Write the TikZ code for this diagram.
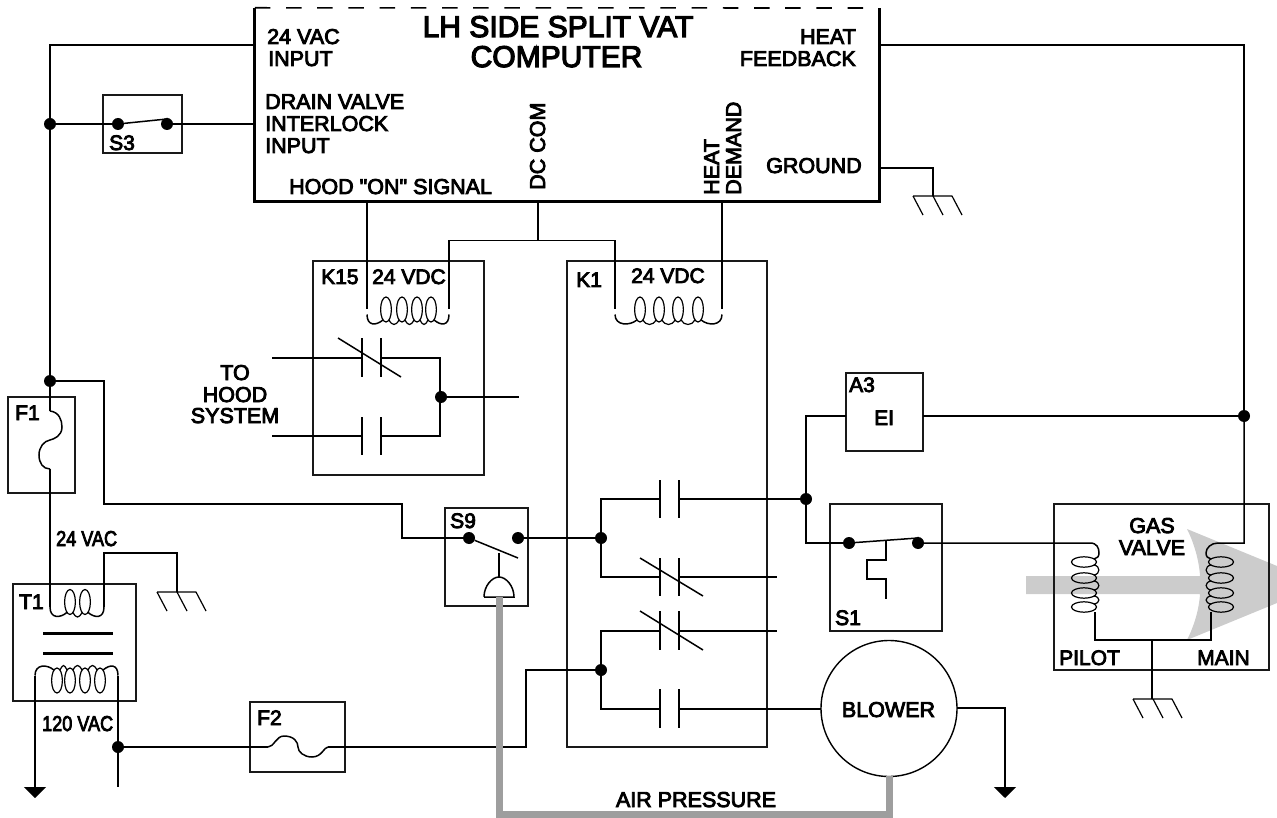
\documentclass[tikz,border=0pt]{standalone}
\usepackage{fontspec}
\usepackage{graphicx}
\setmainfont[Ligatures=TeXOff,FakeBold=4]{Liberation Sans}
\usetikzlibrary{arrows.meta}
\tikzset{
  wire/.style={line width=1.5pt,draw=black,line join=miter},
  boxn/.style={draw=black!90,line width=1.5pt,rectangle,inner sep=0pt,fill=none},
  dot/.style={circle,fill=black,inner sep=0pt,minimum size=12pt},
  lab/.style={inner sep=0pt,anchor=base west,font=\fontsize{21.5}{22}\selectfont,text=black},
  labr/.style={lab,anchor=base east},
  labc/.style={lab,anchor=base},
  small/.style={lab,font=\fontsize{21}{22}\selectfont},
  titlel/.style={labc,font=\fontsize{30}{30}\selectfont},
  pipe/.style={line width=7pt,draw=black!38},
  plate/.style={line width=1.5pt,draw=black},
  gndtip/.style={-{Triangle[width=22pt,length=11pt]},wire},
}
% s = +1 bottom, -1 top ; yc, xL, xR, first, last, list
\newcommand{\hcoil}[7]{%
  \foreach \x [remember=\x as \px (initially #5), count=\i] in {#7} {%
    \draw[line width=1.2pt] (\x,#2) circle[x radius=5.4,y radius=12.5];
    \ifnum\i>1
    \draw[line width=1.2pt] ({\px+3},{#2+#1*10.4}) .. controls ({\px+6},{#2+#1*16.5}) and ({\x-6},{#2+#1*16.5}) .. ({\x-3},{#2+#1*10.4});
    \fi
  }
  \draw[wire] (#3,{#2+#1*5}) .. controls (#3,{#2+#1*16.5}) and ({#5-10},{#2+#1*16.5}) .. ({#5-3},{#2+#1*10.4});
  \draw[wire] (#4,{#2+#1*5}) .. controls (#4,{#2+#1*16.5}) and ({#6+10},{#2+#1*16.5}) .. ({#6+3},{#2+#1*10.4});
}
% s = +1 wire on right, -1 on left ; xc
\newcommand{\vcoil}[2]{%
  \foreach \y [remember=\y as \py (initially 562), count=\i] in {562,578,593,607} {%
    \draw[line width=1.2pt] (#2,\y) circle[x radius=12.5,y radius=5.2];
    \ifnum\i>1
    \draw[line width=1.2pt] ({#2+#1*10},{\py+3}) .. controls ({#2+#1*16.5},{\py+4}) and ({#2+#1*16.5},{\y-4}) .. ({#2+#1*10},{\y-3});
    \fi
  }
}
\newcommand{\gnd}[2]{%
  \draw[line width=1.2pt] (#1,#2) -- ++(39,0) ++(-39,0) -- ++(10,19) ++(10,-19) -- ++(10,19) ++(9,-19) -- ++(10,19);
}
\begin{document}
\begin{tikzpicture}[x=1pt,y=-1pt]
\useasboundingbox (0,0) rectangle (1277,818);

% gas flow arrow
\fill[black!20] (1026,576) -- (1200,576) .. controls (1199,560) and (1194,543) .. (1187,529)
  -- (1277,566) -- (1277,603) -- (1187,640) .. controls (1194,626) and (1199,610) .. (1200,594) -- (1026,594) -- cycle;

% boxes
\node[inner sep=0pt,minimum width=624pt,minimum height=193pt] (computer) at (567,104.5) {};
\draw[line width=3.2pt] (computer.north west) -- (computer.south west) -- (computer.south east) -- (computer.north east);
\draw[line width=1.6pt,dash pattern=on 15.5pt off 15.7pt] (computer.north west) -- (865,8);
\node[boxn,minimum width=79pt,minimum height=58pt] (S3) at (142.5,124) {};
\node[boxn,minimum width=67pt,minimum height=96pt] (F1) at (41.5,445) {};
\node[boxn,minimum width=123pt,minimum height=117pt] (T1) at (74.5,642.5) {};
\node[boxn,minimum width=95pt,minimum height=70pt] (F2) at (297.5,737) {};
\node[boxn,minimum width=171pt,minimum height=214pt] (K15) at (398.5,368) {};
\node[boxn,minimum width=200pt,minimum height=486pt] (K1) at (667,504) {};
\node[boxn,minimum width=83pt,minimum height=98pt] (S9) at (486.5,557) {};
\node[boxn,minimum width=77pt,minimum height=78pt] (A3) at (884.5,412) {};
\node[boxn,minimum width=112pt,minimum height=127pt] (S1) at (886,567.5) {};
\node[boxn,minimum width=215pt,minimum height=166pt] (GV) at (1161.5,587) {};
\node[circle,draw=black,line width=1.4pt,inner sep=0pt,minimum size=136pt] (BL) at (889,708.5) {};

% junctions
\node[dot] (jS3) at (50,124) {};
\node[dot] (jF1) at (50,381) {};
\node[dot] (s3a) at (118,124) {};
\node[dot] (s3b) at (167,124) {};
\node[dot] (s9a) at (469,538) {};
\node[dot] (s9b) at (518,538) {};
\node[dot] (jK1a) at (601,538) {};
\node[dot] (jK1b) at (601,670) {};
\node[dot] (jK15) at (441,397) {};
\node[dot] (jEI) at (806,499) {};
\node[dot] (jR) at (1244,416) {};
\node[dot] (s1a) at (849,543) {};
\node[dot] (s1b) at (918,543) {};
\node[dot] (jF2) at (118,747) {};

% free points
\coordinate (cIn) at (255,45);
\coordinate (cFb) at (879,45);
\coordinate (cDr) at (255,124);
\coordinate (cGr) at (879,168);
\coordinate (cHood) at (367,201);
\coordinate (cCom) at (538,201);
\coordinate (cDem) at (722,201);
\coordinate (cBus) at (538,240.5);
\coordinate (f1t) at (50,411);
\coordinate (f1b) at (50,469);
\coordinate (t1l) at (50,607);
\coordinate (t1r) at (104,607);
\coordinate (t1a) at (35,675.5);
\coordinate (t1c) at (118,675.5);
\coordinate (f2l) at (268,747);
\coordinate (f2r) at (328,747);
\coordinate (a3l) at (846,416);
\coordinate (a3r) at (923,416);
\coordinate (blL) at (821,709);
\coordinate (blR) at (957,708);

% left rail
\draw[wire] (cIn) -| (jS3);
\draw[wire] (jS3) -- (jF1);
\draw[wire] (jS3) -- (s3a);
\draw[wire] (s3b) -- (cDr);
\draw[wire] (s3a) -- (167,119) -- (s3b);
\draw[wire] (jF1) -- (f1t);
\draw[wire] (f1t) .. controls (59,412) and (62,420) .. (62,427) .. controls (62,436) and (54,439) .. (50,440)
   .. controls (44,441) and (39,447) .. (39,455) .. controls (39,463) and (43,469) .. (f1b);
\draw[wire] (f1b) -- (t1l);
\draw[wire] (jF1.center) -- (104,381) -- (104,504) -- (402,504) |- (s9a);

% T1
\draw[wire] (t1r) -- (104,553) -- (177,553) -- (177,592);
\gnd{157}{592}
\hcoil{1}{602}{50}{104}{70}{85}{70,85}
\draw[line width=3pt] (43,633) -- (113,633);
\draw[line width=3pt] (43,653) -- (113,653);
\hcoil{-1}{680.5}{35}{118}{57}{100}{57,70,85,100}
\draw[gndtip] (t1a) -- (35,798);
\draw[wire] (t1c) -- (jF2) -- (118,787);

% F2 and mains
\draw[wire] (jF2) -- (f2l);
\draw[wire] (f2l) .. controls (274,747) and (276,736) .. (284,736) .. controls (294,736) and (298,742) .. (298,747)
   .. controls (298,752) and (304,757) .. (312,757) .. controls (322,757) and (324,747) .. (f2r);
\draw[wire] (f2r) -- (526,747) |- (jK1b);

% S9
\draw[wire] (s9a) -- (518,558);
\draw[wire] (499,553) -- (499,577);
\draw[wire] (484,597) -- (514,597) .. controls (514,586) and (506,577) .. (499,577) .. controls (492,577) and (484,586) .. (484,597);
\draw[wire] (s9b) -- (jK1a);

% computer feeds
\draw[wire] (cHood) -- (367,309);
\draw[wire] (cCom) -- (cBus);
\draw[wire] (cBus) -| (449,309);
\draw[wire] (cBus) -- (615,240.5) -- (615,309);
\draw[wire] (cDem) -- (722,309);
\draw[wire] (cGr) -- (933,168) -- (933,196);
\gnd{913}{196}

% K15 coil and contacts
\hcoil{1}{309.5}{367}{449}{386}{431}{386,402,417,431}
\draw[wire] (272,358) -- (362,358);
\draw[plate] (362,338) -- (362,377);
\draw[plate] (381,338) -- (381,377);
\draw[wire] (338,338) -- (401,377);
\draw[wire] (381,358) -- (440,358) -- (440,436) -- (381,436);
\draw[plate] (362,417) -- (362,455);
\draw[plate] (381,417) -- (381,455);
\draw[wire] (272,436) -- (362,436);
\draw[wire] (jK15) -- (519,397);

% K1 coil and contacts
\hcoil{1}{309.5}{615}{722}{640}{698}{640,659,678,698}
\draw[wire] (jK1a) -- (601,499) -- (660,499);
\draw[plate] (660,480) -- (660,518);
\draw[plate] (679,480) -- (679,518);
\draw[wire] (679,499) -- (jEI);
\draw[wire] (jK1a) -- (601,577) -- (660,577);
\draw[plate] (660,558) -- (660,596);
\draw[plate] (679,558) -- (679,596);
\draw[wire] (640,558) -- (703,596);
\draw[wire] (679,577) -- (777,577);
\draw[wire] (jK1b) -- (601,631) -- (660,631);
\draw[plate] (660,611) -- (660,650);
\draw[plate] (679,611) -- (679,650);
\draw[wire] (640,611) -- (703,650);
\draw[wire] (679,631) -- (777,631);
\draw[wire] (jK1b) -- (601,709) -- (660,709);
\draw[plate] (660,689) -- (660,728);
\draw[plate] (679,689) -- (679,728);
\draw[wire] (679,709) -- (blL);

% blower return
\draw[gndtip] (blR) -- (1005,708) -- (1005,798);

% A3, S1
\draw[wire] (jEI) -- (806,416) -- (a3l);
\draw[wire] (a3r) -- (jR);
\draw[wire] (cFb) -- (1244,45) -- (jR);
\draw[wire] (jEI) -- (806,543) -- (s1a);
\draw[wire] (s1a) -- (918,538) -- (s1b);
\draw[wire] (886,540) -- (886,560) -- (867,560) -- (867,579) -- (886,579) -- (886,599);

% gas valve
\draw[wire] (s1b) -- (1090,543) .. controls (1097,543) and (1099,548) .. (1099,553) .. controls (1099,557) and (1097,558) .. (1094,559);
\vcoil{1}{1084}
\draw[wire] (1095,612) -- (1095,640) -- (1211,640) -- (1211,612);
\draw[wire] (jR) -- (1244,543) -- (1218,543) .. controls (1211,543) and (1206,548) .. (1206,553) .. controls (1206,557) and (1208,558) .. (1211,559);
\vcoil{-1}{1221}
\draw[wire] (1152,640) -- (1152,699);
\gnd{1133}{699}

% pressure tube
\draw[pipe] (499.5,597) -- (499.5,814.5) -- (889,814.5) -- (889,776);

% labels
\node[titlel] (tA) at (558,37) {LH SIDE SPLIT VAT};
\node[titlel] (tB) at (556.5,67) {COMPUTER};
\node[lab] (l1) at (267,44) {24 VAC};
\node[lab] (l2) at (268,66) {INPUT};
\node[lab] (l3) at (265,109) {DRAIN VALVE};
\node[lab] (l4) at (265,131) {INTERLOCK};
\node[lab] (l5) at (265,153) {INPUT};
\node[lab] (l6) at (289,194) {HOOD "ON" SIGNAL};
\node[labr] (l7) at (856,44) {HEAT};
\node[labr] (l8) at (856,66) {FEEDBACK};
\node[lab] (l9) at (766,173) {GROUND};
\node[lab,rotate=90] (l10) at (545,190) {DC COM};
\node[lab,rotate=90] (l11) at (719,195) {HEAT};
\node[lab,rotate=90] (l12) at (741,195) {DEMAND};
\node[small] (l13) at (321,284) {K15};
\node[small] (l14) at (372,284) {24 VDC};
\node[small] (l15) at (576,287) {K1};
\node[small] (l16) at (631,283) {24 VDC};
\node[labc] (l17) at (235,380) {TO};
\node[labc] (l18) at (235,402) {HOOD};
\node[labc] (l19) at (235,423) {SYSTEM};
\node[small] (l20) at (15,420) {F1};
\node[small] (l21) at (19,609) {T1};
\node[small] (l22) at (257,725) {F2};
\node[lab] (l23) at (56,546) {\scalebox{0.84}[1]{24 VAC}};
\node[lab] (l24) at (42,731) {\scalebox{0.84}[1]{120 VAC}};
\node[small] (l25) at (109,150) {S3};
\node[small] (l26) at (450,528) {S9};
\node[small] (l27) at (849,392) {A3};
\node[small] (l28) at (874,425) {EI};
\node[small] (l29) at (835,625) {S1};
\node[labc] (l30) at (1152,533) {GAS};
\node[labc] (l31) at (1152,555) {VALVE};
\node[small] (l32) at (1059,665) {PILOT};
\node[small] (l33) at (1197,665) {MAIN};
\node[labc] (l34) at (888.5,717) {BLOWER};
\node[labc] (l35) at (696,807) {AIR PRESSURE};
\end{tikzpicture}
\end{document}
